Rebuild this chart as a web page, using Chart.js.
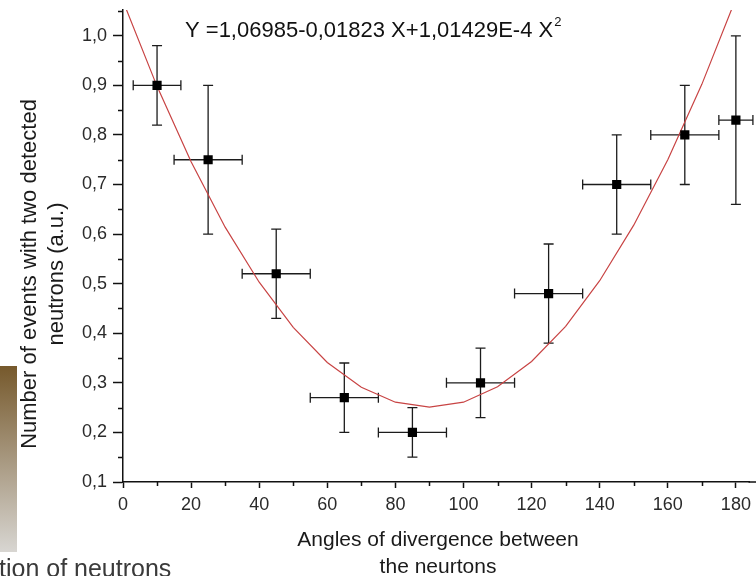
<!DOCTYPE html>
<html>
<head>
<meta charset="utf-8">
<title>Events with two detected neutrons vs divergence angle</title>
<script src="https://cdn.jsdelivr.net/npm/chart.js@4.4.1/dist/chart.umd.min.js"></script>
<style>
  html, body { margin: 0; padding: 0; background: #fff; overflow: hidden; }
  canvas { display: block; }
</style>
</head>
<body>
<canvas id="neutronChart" width="756" height="576"></canvas>
<script>
// ==========================================
// Data
// ==========================================

const ANGLES = [10, 25, 45, 65, 85, 105, 125, 145, 165, 180];
const EVENTS = [0.90, 0.75, 0.52, 0.27, 0.20, 0.30, 0.48, 0.70, 0.80, 0.83];
const ANGLE_ERR = [7, 10, 10, 10, 10, 10, 10, 10, 10, 5];
const EVENTS_ERR = [0.08, 0.15, 0.09, 0.07, 0.05, 0.07, 0.10, 0.10, 0.10, 0.17];

// fitted parabola as it is drawn (polyline, one vertex every 10 degrees)
const FIT_ANGLES = [0, 10, 20, 30, 40, 50, 60, 70, 80, 90, 100, 110, 120, 130, 140, 150, 160, 170, 180];
const FIT_VALUES = [1.070, 0.898, 0.746, 0.614, 0.503, 0.412, 0.341, 0.291, 0.261, 0.251,
                    0.261, 0.292, 0.343, 0.414, 0.506, 0.618, 0.750, 0.902, 1.075];

const X_MINOR = [10, 30, 50, 70, 90, 110, 130, 150, 170];
const Y_MINOR = [0.15, 0.25, 0.35, 0.45, 0.55, 0.65, 0.75, 0.85, 0.95, 1.05];

const EQUATION = 'Y =1,06985-0,01823 X+1,01429E-4 X';
const X_TITLE = ['Angles of divergence between', 'the neurtons'];
const Y_TITLE = ['Number of events with two detected', 'neutrons (a.u.)'];
const SLIDE_TEXT = 'tion of neutrons';

const FONT = '"Liberation Sans", Arial, sans-serif';

// ==========================================
// Plugins
// ==========================================

// x and y error bars with caps, drawn under the square markers
const errorBars = {
    id: 'errorBars',
    beforeDatasetsDraw(chart) {
        const { ctx, scales: { x, y } } = chart;
        const cap = 5;
        ctx.save();
        ctx.strokeStyle = '#1c1c1c';
        ctx.lineWidth = 1.3;
        ANGLES.forEach((a, i) => {
            const px = x.getPixelForValue(a);
            const py = y.getPixelForValue(EVENTS[i]);
            const x0 = x.getPixelForValue(a - ANGLE_ERR[i]);
            const x1 = x.getPixelForValue(a + ANGLE_ERR[i]);
            const y0 = y.getPixelForValue(EVENTS[i] - EVENTS_ERR[i]);
            const y1 = y.getPixelForValue(EVENTS[i] + EVENTS_ERR[i]);
            ctx.beginPath();
            ctx.moveTo(x0, py); ctx.lineTo(x1, py);
            ctx.moveTo(x0, py - cap); ctx.lineTo(x0, py + cap);
            ctx.moveTo(x1, py - cap); ctx.lineTo(x1, py + cap);
            ctx.moveTo(px, y0); ctx.lineTo(px, y1);
            ctx.moveTo(px - cap, y0); ctx.lineTo(px + cap, y0);
            ctx.moveTo(px - cap, y1); ctx.lineTo(px + cap, y1);
            ctx.stroke();
        });
        ctx.restore();
    }
};

// minor ticks, axis titles, fit equation and the bits of slide around the plot
const decorations = {
    id: 'decorations',
    afterDraw(chart) {
        const { ctx, scales: { x, y }, chartArea, width } = chart;
        ctx.save();

        // minor ticks, plus the last few px of the x axis up to the edge
        ctx.strokeStyle = '#111';
        ctx.lineWidth = 1.5;
        ctx.beginPath();
        X_MINOR.forEach(v => {
            const px = Math.round(x.getPixelForValue(v)) + 0.5;
            ctx.moveTo(px, chartArea.bottom);
            ctx.lineTo(px, chartArea.bottom + 4);
        });
        Y_MINOR.forEach(v => {
            const py = Math.round(y.getPixelForValue(v)) + 0.5;
            ctx.moveTo(chartArea.left, py);
            ctx.lineTo(chartArea.left - 5, py);
        });
        ctx.stroke();
        ctx.beginPath();
        ctx.moveTo(chartArea.right - 1, chartArea.bottom);
        ctx.lineTo(width, chartArea.bottom);
        ctx.stroke();

        // equation of the fit
        ctx.fillStyle = '#111';
        ctx.textBaseline = 'alphabetic';
        ctx.textAlign = 'left';
        ctx.font = '22px ' + FONT;
        ctx.fillText(EQUATION, 185, 37);
        const eqW = ctx.measureText(EQUATION).width;
        ctx.font = '13px ' + FONT;
        ctx.fillText('2', 185 + eqW + 1, 26);

        // x title
        ctx.fillStyle = '#1a1a1a';
        ctx.font = '21px ' + FONT;
        ctx.textAlign = 'center';
        ctx.textBaseline = 'middle';
        ctx.fillText(X_TITLE[0], 438, 540);
        ctx.fillText(X_TITLE[1], 438, 567);

        // y title (rotated)
        ctx.save();
        ctx.translate(30, 274);
        ctx.rotate(-Math.PI / 2);
        ctx.font = '22px ' + FONT;
        ctx.fillText(Y_TITLE[0], 0, 0);
        ctx.fillText(Y_TITLE[1], 0, 27);
        ctx.restore();

        // slide background strip and cut caption
        const grad = ctx.createLinearGradient(0, 366, 0, 552);
        grad.addColorStop(0, '#76592c');
        grad.addColorStop(1, '#d8d6d2');
        ctx.fillStyle = grad;
        ctx.fillRect(0, 366, 17, 186);

        ctx.fillStyle = '#3a3a3a';
        ctx.font = '25px ' + FONT;
        ctx.textAlign = 'left';
        ctx.textBaseline = 'alphabetic';
        ctx.fillText(SLIDE_TEXT, -1, 577);

        ctx.restore();
    }
};

// keep the plot box fixed: no extra room for half-labels at the ends
function noEdgePadding(s) {
    s.paddingTop = 0;
    s.paddingBottom = 0;
    s.paddingLeft = 0;
    s.paddingRight = 0;
}

// ==========================================
// Chart
// ==========================================

const ctx = document.getElementById('neutronChart').getContext('2d');

new Chart(ctx, {
    type: 'scatter',
    data: {
        datasets: [
            {
                label: 'Measured',
                data: ANGLES.map((a, i) => ({ x: a, y: EVENTS[i] })),
                pointStyle: 'rect',
                pointRadius: 6.5,
                pointHoverRadius: 6.5,
                backgroundColor: '#000',
                borderWidth: 0,
                order: 0
            },
            {
                type: 'line',
                label: 'Fit',
                data: FIT_ANGLES.map((a, i) => ({ x: a, y: FIT_VALUES[i] })),
                borderColor: '#c84444',
                borderWidth: 1.2,
                pointRadius: 0,
                tension: 0,
                fill: false,
                order: 1
            }
        ]
    },
    options: {
        responsive: false,
        animation: false,
        layout: { padding: { top: 10, left: 0, right: 0, bottom: 0 } },
        plugins: {
            legend: { display: false },
            tooltip: { enabled: false }
        },
        scales: {
            x: {
                type: 'linear',
                min: 0,
                max: 184,
                afterFit(s) { s.height = 94; noEdgePadding(s); },
                border: { color: '#111', width: 1.5 },
                grid: { drawOnChartArea: false, drawTicks: true, tickLength: 6, tickColor: '#111', tickWidth: 1.5 },
                ticks: {
                    stepSize: 20,
                    includeBounds: false,
                    maxRotation: 0,
                    autoSkip: false,
                    padding: 6,
                    color: '#2a2a2a',
                    font: { family: FONT, size: 18 }
                }
            },
            y: {
                type: 'linear',
                min: 0.1,
                max: 1.052,
                afterFit(s) { s.width = 123; noEdgePadding(s); },
                border: { color: '#111', width: 1.5 },
                grid: { drawOnChartArea: false, drawTicks: true, tickLength: 10, tickColor: '#111', tickWidth: 1.5 },
                ticks: {
                    stepSize: 0.1,
                    includeBounds: false,
                    padding: 6,
                    color: '#2a2a2a',
                    font: { family: FONT, size: 18 },
                    callback: v => v.toFixed(1).replace('.', ',')
                }
            }
        }
    },
    plugins: [errorBars, decorations]
});
</script>
</body>
</html>
